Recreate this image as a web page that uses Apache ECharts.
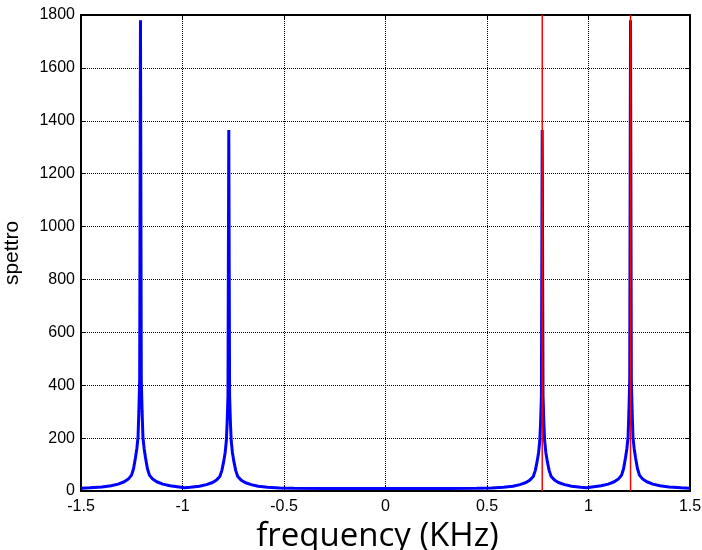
<!DOCTYPE html>
<html>
<head>
<meta charset="utf-8">
<script src="https://cdn.jsdelivr.net/npm/echarts@6/dist/echarts.min.js"></script>
<style>html,body{margin:0;padding:0;background:#fff}#c{width:702px;height:550px}</style>
</head>
<body>
<div id="c"></div>
<script>
// frequency samples (KHz) and spectrum magnitude
const freqKHz = [
  -1.500, -1.457, -1.397, -1.352, -1.317, -1.287, -1.267, -1.251, -1.241, -1.232,
  -1.225, -1.219, -1.215, -1.211, -1.207, -1.203, -1.199, -1.195, -1.189, -1.182,
  -1.173, -1.163, -1.147, -1.127, -1.097, -1.062, -1.017, -0.990, -0.962, -0.917,
  -0.882, -0.852, -0.832, -0.816, -0.806, -0.797, -0.790, -0.784, -0.780, -0.776,
  -0.772, -0.768, -0.764, -0.760, -0.754, -0.747, -0.738, -0.728, -0.712, -0.692,
  -0.662, -0.627, -0.582, -0.522, -0.450, -0.300, -0.150, 0.000, 0.150, 0.300,
  0.450, 0.522, 0.582, 0.627, 0.662, 0.692, 0.712, 0.728, 0.738, 0.747,
  0.754, 0.760, 0.764, 0.768, 0.772, 0.776, 0.780, 0.784, 0.790, 0.797,
  0.806, 0.816, 0.832, 0.852, 0.882, 0.917, 0.962, 0.990, 1.017, 1.062,
  1.097, 1.127, 1.147, 1.163, 1.173, 1.182, 1.189, 1.195, 1.199, 1.203,
  1.207, 1.211, 1.215, 1.219, 1.225, 1.232, 1.241, 1.251, 1.267, 1.287,
  1.317, 1.352, 1.397, 1.457, 1.500
];
const spettro = [
  10, 12, 15, 20, 26, 35, 45, 60, 85, 125,
  160, 205, 300, 420, 1780, 420, 300, 205, 160, 125,
  85, 60, 45, 35, 26, 20, 15, 12, 14, 18,
  24, 32, 42, 55, 78, 112, 145, 190, 260, 360,
  1365, 360, 260, 190, 145, 112, 78, 55, 42, 32,
  24, 18, 14, 11, 10, 9, 9, 9, 9, 9,
  10, 11, 14, 18, 24, 32, 42, 55, 78, 112,
  145, 190, 260, 360, 1365, 360, 260, 190, 145, 112,
  78, 55, 42, 32, 24, 18, 14, 12, 15, 20,
  26, 35, 45, 60, 85, 125, 160, 205, 300, 420,
  1780, 420, 300, 205, 160, 125, 85, 60, 45, 35,
  26, 20, 15, 12, 10
];
// red marker lines (KHz)
const markerFreqs = [0.772, 1.207];
const xRange = [-1.5, 1.5], xStep = 0.5;
const yRange = [0, 1800], yStep = 200;

const tickFont = {fontFamily: 'Liberation Sans, Arial, sans-serif', fontSize: 16, color: '#000'};
const chart = echarts.init(document.getElementById('c'), null, {renderer: 'canvas'});
const gridLine = {show: true, lineStyle: {color: '#000', width: 1, type: [1, 1]}};
const axLine = {show: true, onZero: false, lineStyle: {color: '#000', width: 2}};
const tick = {show: true, inside: true, length: 5, lineStyle: {color: '#000', width: 1}};
const plain = v => String(v);

chart.setOption({
  animation: false,
  backgroundColor: '#fff',
  grid: {left: 81, right: 12, top: 15, bottom: 59, containLabel: false, outerBoundsMode: 'none'},
  xAxis: [{
    type: 'value', min: xRange[0], max: xRange[1], interval: xStep,
    position: 'bottom',
    axisLine: axLine, axisTick: tick, splitLine: gridLine,
    axisLabel: Object.assign({margin: 8, formatter: plain}, tickFont),
    name: 'frequency (KHz)', nameLocation: 'middle', nameGap: 28,
    nameTextStyle: {fontFamily: 'Open Sans, sans-serif', fontSize: 33, color: '#000', padding: [0, 16, 0, 0]}
  }, {
    type: 'value', min: xRange[0], max: xRange[1], interval: xStep,
    position: 'top',
    axisLine: axLine, axisTick: tick, splitLine: {show: false}, axisLabel: {show: false}
  }],
  yAxis: [{
    type: 'value', min: yRange[0], max: yRange[1], interval: yStep,
    position: 'left',
    axisLine: axLine, axisTick: tick, splitLine: gridLine,
    axisLabel: Object.assign({margin: 6, formatter: plain}, tickFont),
    name: 'spettro', nameLocation: 'middle', nameGap: 58, nameRotate: 90,
    nameTextStyle: {fontFamily: 'Liberation Sans, Arial, sans-serif', fontSize: 21, color: '#000'}
  }, {
    type: 'value', min: yRange[0], max: yRange[1], interval: yStep,
    position: 'right',
    axisLine: axLine, axisTick: tick, splitLine: {show: false}, axisLabel: {show: false}
  }],
  series: [{
    type: 'line',
    data: freqKHz.map((f, i) => [f, spettro[i]]),
    showSymbol: false, symbol: 'none', smooth: false,
    lineStyle: {color: '#0000ff', width: 3},
    z: 2, silent: true
  }].concat(markerFreqs.map(f => ({
    type: 'line',
    data: [[f, yRange[0]], [f, yRange[1]]],
    showSymbol: false, symbol: 'none',
    lineStyle: {color: '#ff0000', width: 1.5},
    z: 3, silent: true
  })))
});
</script>
</body>
</html>
